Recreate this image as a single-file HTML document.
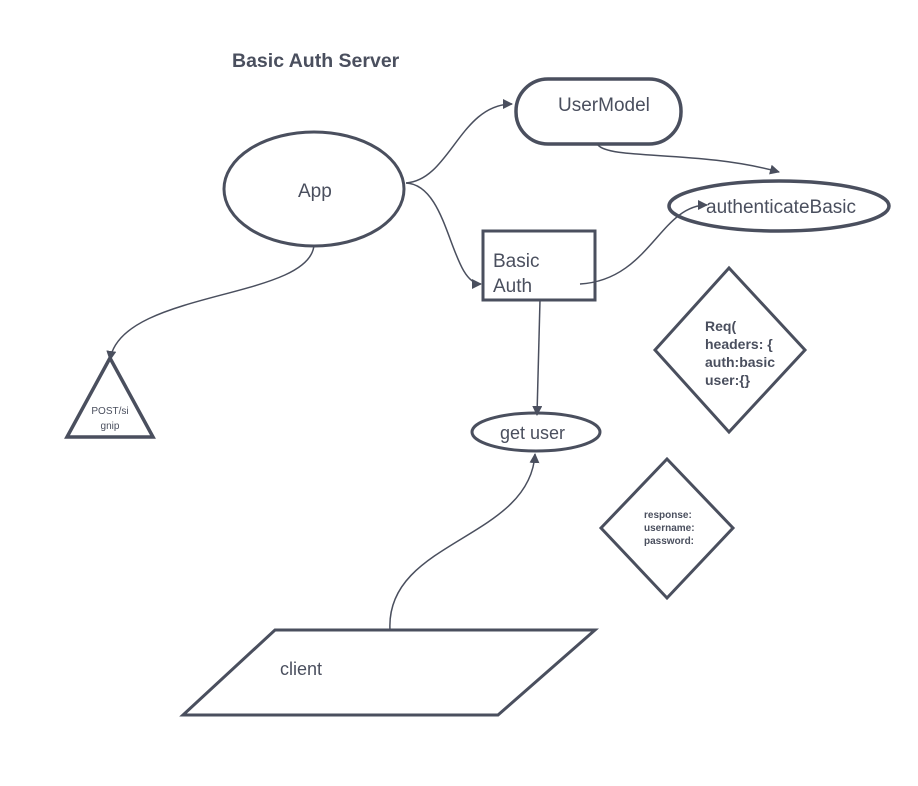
<!DOCTYPE html>
<html><head><meta charset="utf-8"><style>
html,body{margin:0;padding:0;background:#fff;}
svg{display:block;}
text{font-family:"Liberation Sans",sans-serif;fill:#4a4f5e;}
</style></head><body>
<svg width="918" height="786" viewBox="0 0 918 786" xmlns="http://www.w3.org/2000/svg">
<defs>
<marker id="a" markerWidth="10" markerHeight="10" refX="9" refY="5" orient="auto" markerUnits="userSpaceOnUse">
<path d="M0,0 L10,5 L0,10 z" fill="#4a4f5e"/>
</marker>
</defs>
<g fill="none" stroke="#4a4f5e">
<ellipse cx="314" cy="189" rx="90" ry="57" stroke-width="3"/>
<rect x="516" y="79" width="165" height="65" rx="32" stroke-width="3.5"/>
<ellipse cx="779" cy="206" rx="110" ry="25" stroke-width="3.5"/>
<rect x="483" y="231" width="112" height="69" stroke-width="3"/>
<ellipse cx="536" cy="432" rx="64" ry="19" stroke-width="3"/>
<polygon points="110,358 67,437 153,437" stroke-width="3.5" stroke-linejoin="miter"/>
<polygon points="729,268 655,350 729,432 805,350" stroke-width="3"/>
<polygon points="667,459 601,528 667,598 733,528" stroke-width="3"/>
<polygon points="275,630 595,630 498,715 183,715" stroke-width="3"/>
<g stroke-width="1.5">
<path d="M406,183 C450,180 460,104 512,104" marker-end="url(#a)"/>
<path d="M406,183 C450,185 450,284 481,284" marker-end="url(#a)"/>
<path d="M598,145 C610,160 700,150 779,172" marker-end="url(#a)"/>
<path d="M580,284 C650,280 660,205 707,205" marker-end="url(#a)"/>
<path d="M540,300 L537,415" marker-end="url(#a)"/>
<path d="M390,630 C385,540 530,540 535,454" marker-end="url(#a)"/>
<path d="M314,245 C310,300 120,290 110,360" marker-end="url(#a)"/>
</g>
</g>
<text x="232" y="67" font-size="19.5" font-weight="bold">Basic Auth Server</text>
<text x="298" y="197" font-size="19">App</text>
<text x="558" y="111" font-size="19">UserModel</text>
<text x="706" y="213" font-size="19">authenticateBasic</text>
<text x="493" y="267" font-size="19">Basic</text>
<text x="493" y="292" font-size="19">Auth</text>
<text x="500" y="439" font-size="18">get user</text>
<text x="280" y="675" font-size="18">client</text>
<text x="110" y="414" font-size="10" text-anchor="middle">POST/si</text>
<text x="110" y="429" font-size="10" text-anchor="middle">gnip</text>
<g font-size="14" font-weight="bold">
<text x="705" y="331">Req(</text>
<text x="705" y="349">headers: {</text>
<text x="705" y="367">auth:basic</text>
<text x="705" y="385">user:{}</text>
</g>
<g font-size="10" font-weight="bold">
<text x="644" y="518">response:</text>
<text x="644" y="531">username:</text>
<text x="644" y="544">password:</text>
</g>
</svg>
</body></html>
